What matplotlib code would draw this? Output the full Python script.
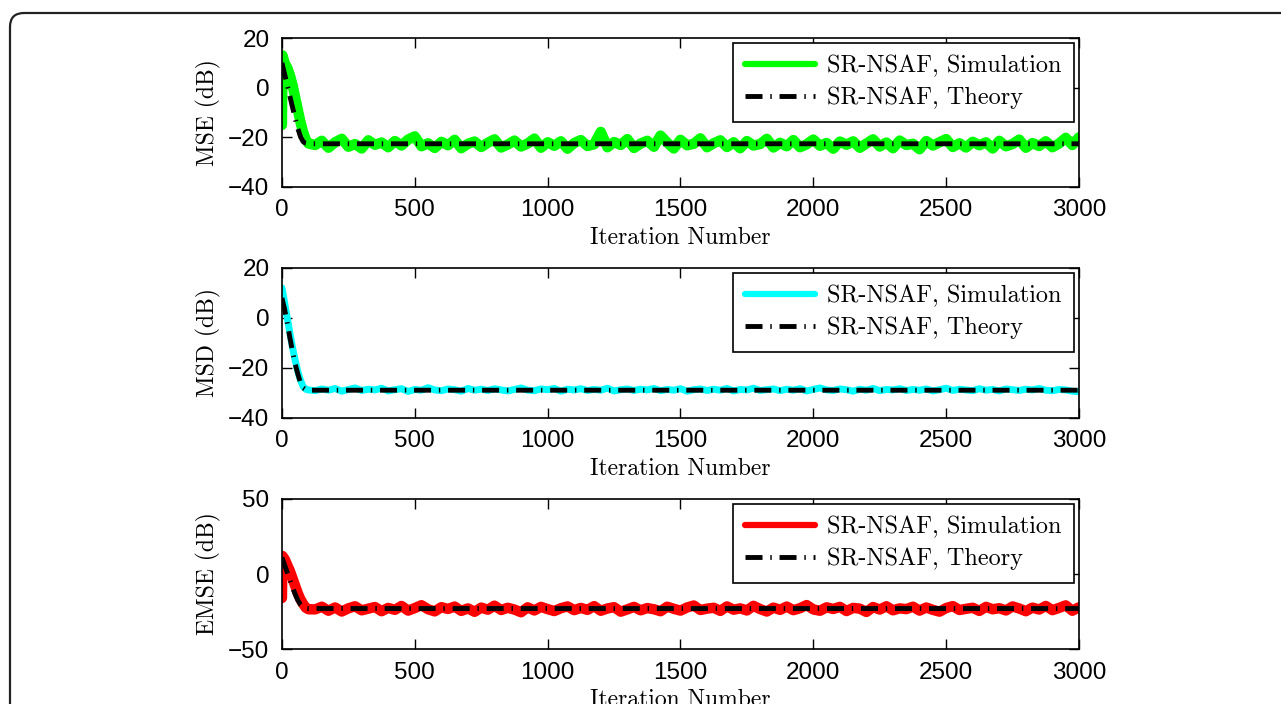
import numpy as np
import matplotlib
matplotlib.use("Agg")
import matplotlib.pyplot as plt
from matplotlib.patches import FancyBboxPatch

iters_early = [0, 2, 10, 20, 30, 40, 50, 60, 70, 80, 90, 100]
iters_steady = list(range(125, 3001, 25))
theory_iters = [0, 10, 20, 30, 40, 50, 60, 70, 80, 90, 100, 3000]

# MSE (dB)
mse_sim_early = [-15, 13, 10, 8, 5, 1, -4, -9, -14, -18, -21, -22.5]
mse_sim_steady = [
    -23.1, -21.4, -24.2, -22.0, -20.6, -23.8, -22.7, -24.5, -21.2, -23.0,
    -22.1, -24.0, -21.5, -23.3, -20.9, -19.6, -23.6, -22.4, -24.3, -21.8,
    -23.2, -21.0, -24.4, -22.6, -21.7, -23.9, -22.2, -20.8, -24.1, -22.9,
    -21.3, -23.7, -22.5, -20.5, -24.2, -22.0, -23.4, -21.6, -24.6, -22.3,
    -21.1, -23.5, -22.8, -17.8, -24.0, -21.9, -23.1, -20.7, -24.3, -22.5,
    -21.4, -23.8, -19.3, -22.1, -24.5, -21.0, -23.2, -22.6, -20.4, -24.0,
    -22.4, -21.2, -23.9, -22.0, -24.4, -21.5, -23.3, -22.7, -20.6, -24.1,
    -22.2, -23.6, -21.1, -24.0, -22.8, -20.9, -23.4, -22.3, -24.6, -21.7,
    -23.0, -21.6, -24.2, -22.5, -20.8, -23.7, -22.1, -24.4, -21.3, -23.1,
    -22.6, -24.8, -21.5, -23.3, -22.0, -20.7, -23.9, -22.4, -24.1, -21.8,
    -23.2, -22.0, -24.5, -21.4, -23.6, -22.7, -20.9, -24.2, -22.3, -23.5,
    -21.6, -24.0, -22.5, -20.2, -23.1, -20.0]
mse_theory = [10, 5.5, 1, -3.5, -8, -12.5, -16.5, -19.8, -21.8, -22.4, -22.6, -22.6]

# MSD (dB)
msd_sim_early = [12, 11, 6, 0, -6, -12, -17, -21.5, -25, -27.5, -28.5, -28.8]
msd_sim_steady = [
    -29.1, -28.4, -28.9, -28.2, -29.3, -28.6, -28.0, -29.0, -28.5, -28.8,
    -28.1, -29.2, -28.7, -28.3, -29.4, -28.6, -28.9, -27.9, -28.8, -29.1,
    -28.4, -28.7, -29.3, -28.2, -28.9, -28.5, -29.0, -28.3, -28.8, -29.2,
    -28.6, -28.0, -28.9, -29.1, -28.4, -28.7, -28.2, -29.3, -28.5, -28.8,
    -28.3, -29.0, -28.6, -28.9, -28.1, -29.2, -28.7, -28.4, -29.0, -28.5,
    -28.8, -28.2, -29.1, -28.6, -28.9, -28.3, -29.3, -28.7, -28.4, -29.0,
    -28.5, -28.9, -28.2, -29.2, -28.6, -28.8, -28.1, -29.0, -28.7, -28.4,
    -29.1, -28.5, -28.9, -28.3, -29.2, -28.6, -28.0, -28.8, -29.0, -28.4,
    -28.7, -29.3, -28.5, -28.9, -28.2, -29.1, -28.6, -28.8, -28.3, -29.0,
    -28.6, -28.9, -28.4, -29.2, -28.7, -28.1, -29.0, -28.5, -28.8, -29.1,
    -28.3, -28.9, -28.6, -29.2, -28.4, -28.7, -29.0, -28.5, -28.8, -28.2,
    -28.9, -29.1, -28.6, -28.8, -29.3, -29.5]
msd_theory = [8, 3.5, -2, -8, -13.5, -18.5, -22.5, -26, -28, -28.7, -28.9, -28.9]

# EMSE (dB)
emse_sim_early = [-16, 12, 10, 6, 2, -3, -8, -13, -17, -20, -22.5, -23.5]
emse_sim_steady = [
    -23.6, -21.8, -24.5, -22.3, -25.0, -22.9, -21.5, -24.2, -23.1, -22.0,
    -24.8, -22.6, -23.9, -21.3, -24.4, -22.7, -20.8, -23.5, -24.9, -22.1,
    -23.3, -21.7, -24.6, -22.9, -25.2, -22.4, -23.8, -21.1, -24.0, -22.5,
    -23.7, -25.5, -22.2, -24.3, -21.9, -23.4, -24.7, -22.8, -21.6, -24.1,
    -22.6, -23.9, -21.4, -24.5, -23.0, -22.1, -25.1, -23.6, -21.9, -24.2,
    -22.7, -23.5, -24.8, -21.8, -23.2, -24.4, -22.3, -21.0, -24.0, -23.1,
    -22.5, -24.6, -21.6, -23.8, -22.9, -24.3, -21.2, -23.4, -25.0, -22.4,
    -23.9, -21.7, -24.1, -22.8, -20.7, -23.6, -24.5, -22.2, -23.3, -21.9,
    -24.7, -22.6, -23.1, -25.3, -22.0, -23.7, -21.5, -24.2, -22.9, -23.4,
    -21.8, -24.4, -22.3, -23.9, -25.1, -22.7, -21.4, -24.0, -23.2, -22.5,
    -24.6, -21.9, -23.5, -22.8, -24.3, -21.6, -23.0, -24.8, -22.4, -23.7,
    -21.3, -24.1, -22.6, -20.9, -24.5, -22.2]
emse_theory = [11, 6, 1, -4, -9, -13.5, -17.5, -20.5, -22.2, -22.8, -23, -23]

sim_label = "SR-NSAF, Simulation"
theory_label = "SR-NSAF, Theory"
xticks = [0, 500, 1000, 1500, 2000, 2500, 3000]

plt.rcParams['font.family'] = ['Liberation Sans', 'DejaVu Sans']
serif = 'cmr10'

fig = plt.figure(figsize=(12.81, 7.04), dpi=100)

# rounded frame around the figure (display pixels)
frame = FancyBboxPatch((10, -30), 1300, 704 - 13 + 30, boxstyle="round,pad=0,rounding_size=14",
                       transform=None, fill=False, edgecolor='#222222', linewidth=1.6)
fig.patches.append(frame)

panels = [
    ([0.2201, 0.7344, 0.6222, 0.2116], mse_sim_early, mse_sim_steady, mse_theory,
     '#00ff00', 'MSE (dB)', (-40, 20), [-40, -20, 0, 20]),
    ([0.2201, 0.4063, 0.6222, 0.2131], msd_sim_early, msd_sim_steady, msd_theory,
     '#00ffff', 'MSD (dB)', (-40, 20), [-40, -20, 0, 20]),
    ([0.2201, 0.0781, 0.6222, 0.2131], emse_sim_early, emse_sim_steady, emse_theory,
     '#ff0000', 'EMSE (dB)', (-50, 50), [-50, 0, 50]),
]

for i, (rect, early, steady, theory, col, ylab, ylim, yticks) in enumerate(panels):
    ax = fig.add_axes(rect)
    x = iters_early + iters_steady
    y = early + steady
    lw = 5.0 if i == 1 else 7.5
    ax.plot(x, y, color=col, lw=lw, solid_joinstyle='round', solid_capstyle='round',
            label=sim_label)
    ax.plot(theory_iters, theory, color='black', lw=3.5,
            linestyle=(0, (3.5, 1.6, 0.3, 1.6)), label=theory_label)
    ax.set_xlim(0, 3000)
    ax.set_ylim(*ylim)
    ax.set_xticks(xticks)
    ax.set_yticks(yticks)
    ax.tick_params(direction='in', top=True, right=True, length=7, width=1,
                   labelsize=17.5, pad=9)
    for s in ax.spines.values():
        s.set_linewidth(1.2)
    ax.set_xlabel('Iteration Number', fontfamily=serif, fontsize=17, labelpad=4)
    ax.set_ylabel(ylab, fontfamily=serif, fontsize=17, labelpad=5)
    leg = ax.legend(loc='upper right', prop={'family': serif, 'size': 17.5},
                    fancybox=False, edgecolor='black', framealpha=1,
                    handlelength=2.9, borderaxespad=0.2, borderpad=0.5,
                    labelspacing=0.4, handletextpad=0.5)
    leg.get_lines()[0].set_linewidth(4.5)
    leg.get_frame().set_linewidth(1.2)

fig.savefig('out.png', dpi=100)
